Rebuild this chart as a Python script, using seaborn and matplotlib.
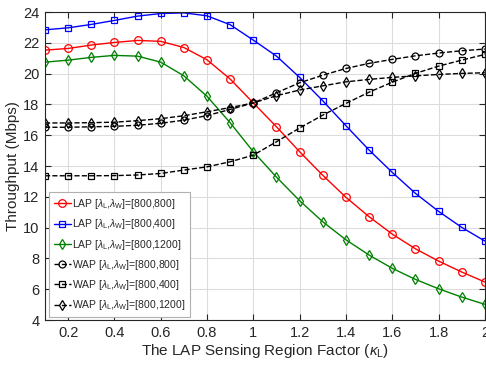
import numpy as np
import pandas as pd
import matplotlib
matplotlib.use("Agg")
import matplotlib.pyplot as plt
import seaborn as sns

kappa = [0.1, 0.2, 0.3, 0.4, 0.5, 0.6, 0.7, 0.8, 0.9, 1.0,
         1.1, 1.2, 1.3, 1.4, 1.5, 1.6, 1.7, 1.8, 1.9, 2.0]

lap_800_800 = [21.53, 21.64, 21.86, 22.03, 22.16, 22.10, 21.70, 20.90, 19.65, 18.10,
               16.55, 14.93, 13.40, 11.97, 10.71, 9.58, 8.63, 7.83, 7.12, 6.47]
lap_800_400 = [22.85, 22.98, 23.20, 23.46, 23.74, 23.91, 23.95, 23.76, 23.18, 22.18,
               21.14, 19.76, 18.24, 16.62, 15.04, 13.59, 12.23, 11.06, 10.02, 9.13]
lap_800_1200 = [20.75, 20.88, 21.06, 21.19, 21.14, 20.75, 19.86, 18.53, 16.81, 14.93,
                13.28, 11.75, 10.38, 9.21, 8.22, 7.36, 6.64, 6.03, 5.49, 5.02]
wap_800_800 = [16.52, 16.52, 16.55, 16.58, 16.65, 16.78, 16.98, 17.28, 17.68, 18.10,
               18.76, 19.41, 19.90, 20.34, 20.67, 20.93, 21.16, 21.34, 21.49, 21.60]
wap_800_400 = [13.37, 13.37, 13.37, 13.38, 13.42, 13.52, 13.74, 13.95, 14.28, 14.71,
               15.58, 16.47, 17.31, 18.07, 18.80, 19.45, 20.02, 20.49, 20.88, 21.25]
wap_800_1200 = [16.80, 16.80, 16.82, 16.85, 16.95, 17.08, 17.27, 17.53, 17.80, 18.10,
                18.57, 18.94, 19.21, 19.47, 19.63, 19.76, 19.86, 19.95, 20.02, 20.06]

labels = [r"LAP [$\lambda_{\rm L}$,$\lambda_{\rm W}$]=[800,800]",
          r"LAP [$\lambda_{\rm L}$,$\lambda_{\rm W}$]=[800,400]",
          r"LAP [$\lambda_{\rm L}$,$\lambda_{\rm W}$]=[800,1200]",
          r"WAP [$\lambda_{\rm L}$,$\lambda_{\rm W}$]=[800,800]",
          r"WAP [$\lambda_{\rm L}$,$\lambda_{\rm W}$]=[800,400]",
          r"WAP [$\lambda_{\rm L}$,$\lambda_{\rm W}$]=[800,1200]"]
series = [lap_800_800, lap_800_400, lap_800_1200, wap_800_800, wap_800_400, wap_800_1200]
colors = ["#ff0000", "#0000ff", "#008000", "#000000", "#000000", "#000000"]
markers = ["o", "s", "d", "o", "s", "d"]
styles = ["-", "-", "-", "--", "--", "--"]
msizes = [5.5, 4.5, 5.5, 5.0, 3.8, 5.5]

sns.set_theme(style="whitegrid")
plt.rcParams['font.family'] = ['Liberation Sans', 'DejaVu Sans']
plt.rcParams['mathtext.fontset'] = 'custom'
plt.rcParams['mathtext.rm'] = 'Liberation Sans'
plt.rcParams['mathtext.it'] = 'Liberation Sans:italic'

fig = plt.figure(figsize=(4.86, 3.67), dpi=100)
ax = fig.add_axes([0.0926, 0.128, 0.905, 0.839])

for y, lab, c, m, ls, ms in zip(series, labels, colors, markers, styles, msizes):
    df = pd.DataFrame({"x": kappa, "y": y})
    sns.lineplot(data=df, x="x", y="y", ax=ax, color=c, marker=m, linestyle=ls,
                 markersize=ms, markerfacecolor="none", markeredgecolor=c,
                 markeredgewidth=0.9, linewidth=1.0, label=lab)

ax.set_xlim(0.1, 2.0)
ax.set_ylim(4, 24)
ax.set_xticks([0.2, 0.4, 0.6, 0.8, 1.0, 1.2, 1.4, 1.6, 1.8, 2.0])
ax.set_xticklabels(["0.2", "0.4", "0.6", "0.8", "1", "1.2", "1.4", "1.6", "1.8", "2"])
ax.set_yticks([4, 6, 8, 10, 12, 14, 16, 18, 20, 22, 24])
ax.set_facecolor("white")
ax.grid(True, color="#dcdcdc", linewidth=0.8)
for s in ax.spines.values():
    s.set_color("#262626")
    s.set_linewidth(0.8)
    s.set_visible(True)
ax.tick_params(direction="in", length=4, width=0.8, colors="#262626",
               labelsize=10.5, top=True, right=True, bottom=True, left=True, pad=4)
ax.set_xlabel(r"The LAP Sensing Region Factor ($\kappa_{\rm L}$)", fontsize=11, color="#262626", labelpad=2)
ax.set_ylabel("Throughput (Mbps)", fontsize=11, color="#262626", labelpad=2)

leg = ax.legend(loc="lower left", fontsize=7.5, frameon=True, fancybox=False,
                handlelength=1.6, handletextpad=0.15, borderpad=0.45, labelspacing=0.6,
                borderaxespad=0.0, bbox_to_anchor=(0.01, 0.01))
leg.get_frame().set_edgecolor("#b0b0b0")
leg.get_frame().set_linewidth(0.8)
leg.get_frame().set_alpha(1.0)

fig.savefig("out.png", dpi=100)
